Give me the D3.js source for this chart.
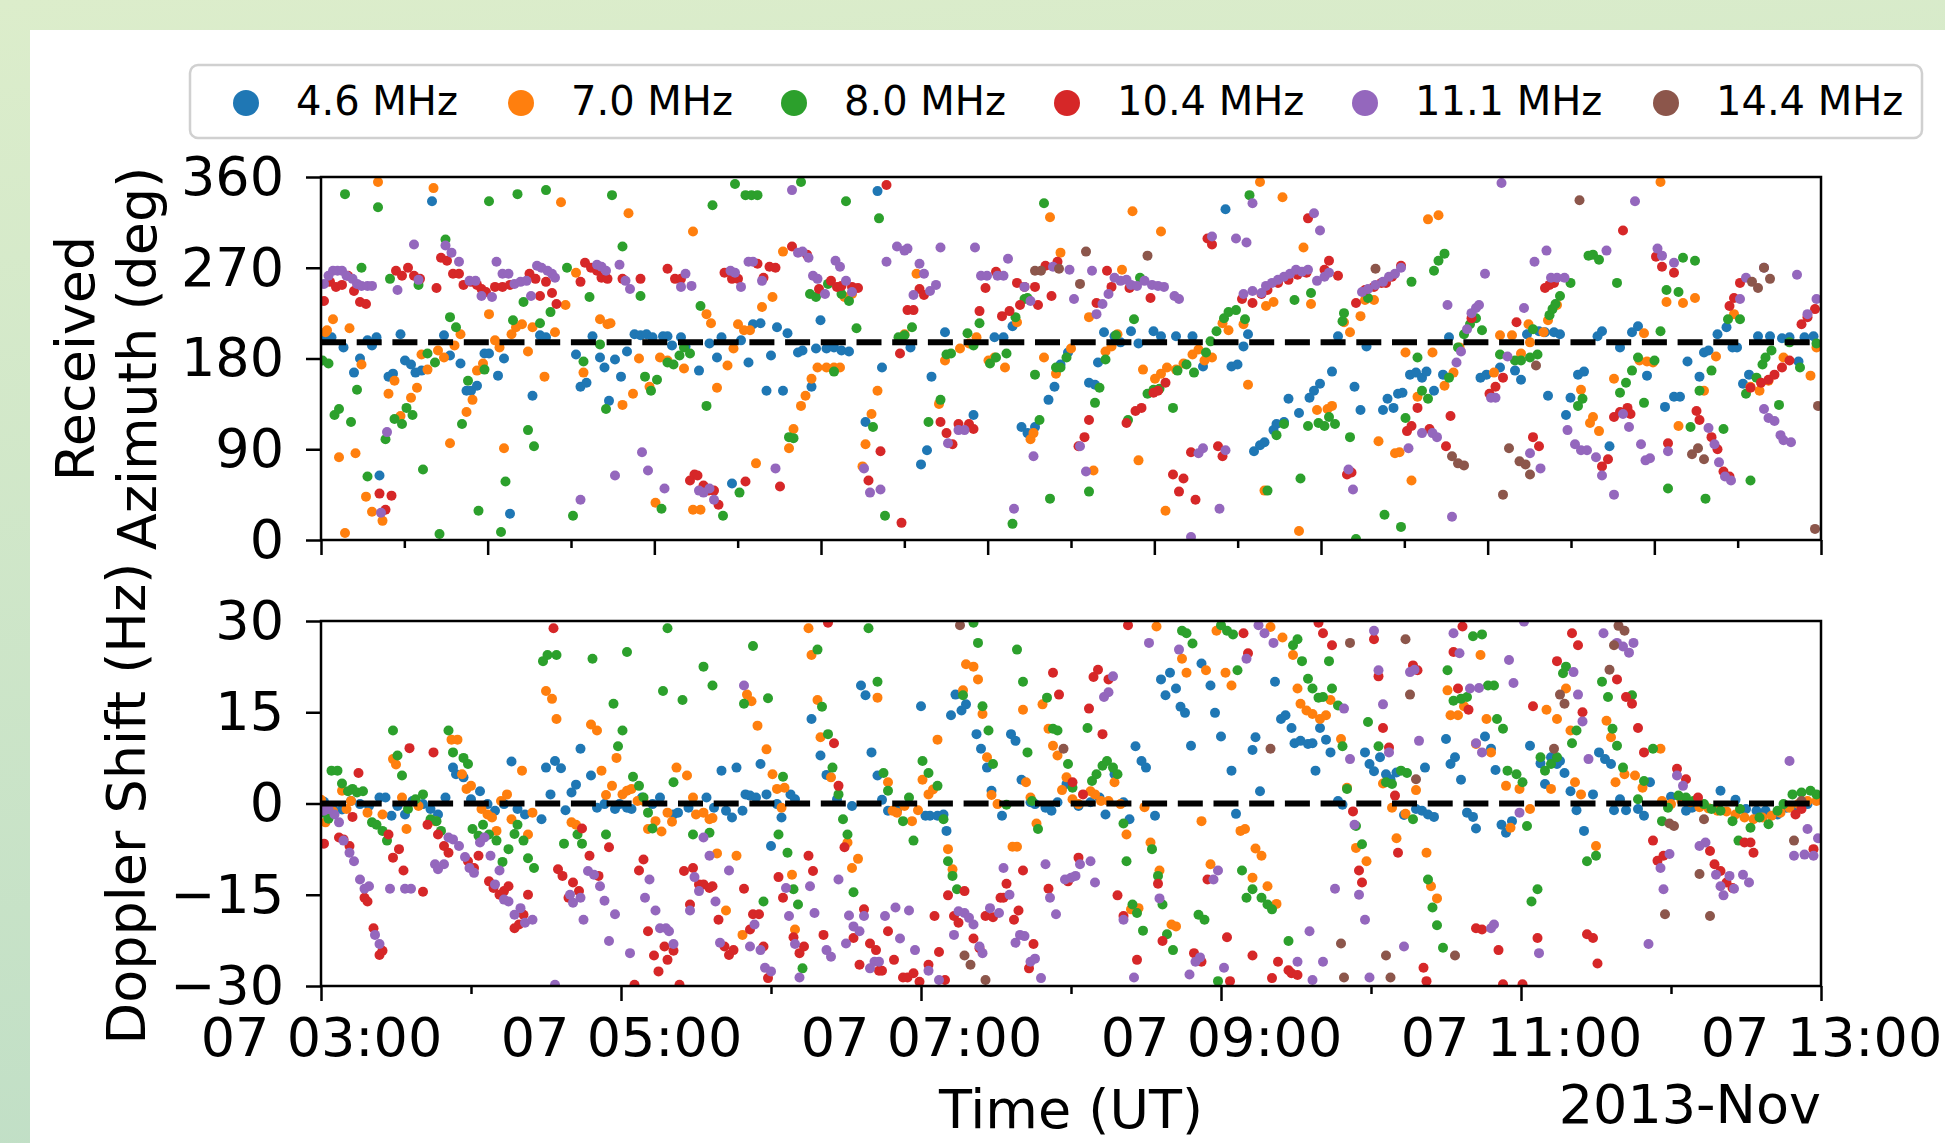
<!DOCTYPE html>
<html>
<head>
<meta charset="utf-8">
<script src="https://cdn.jsdelivr.net/npm/d3@7"></script>
<style>
  body { margin: 0; }
  svg { display: block; }
  text { font-family: "DejaVu Sans", sans-serif; fill: #000; }
</style>
</head>
<body>
<svg id="chart" width="1945" height="1143"></svg>
<script>
// frequencies and colours
const freqLabels = ['4.6 MHz', '7.0 MHz', '8.0 MHz', '10.4 MHz', '11.1 MHz', '14.4 MHz'];
const freqColors = ['#1f77b4', '#ff7f0e', '#2ca02c', '#d62728', '#9467bd', '#8c564b'];

const azTicks = [0, 90, 180, 270, 360];
const dopTicks = [-30, -15, 0, 15, 30];
const labelHours = [3, 5, 7, 9, 11, 13];
const minorHours = [4, 6, 8, 10, 12];
const azReference = 196;
const dopReference = 0;

// [hour UT on 2013-11-07, received azimuth deg]
const azimuth46 = [[3.02,199],[3.07,201],[3.15,191],[3.22,166],[3.26,180],[3.31,198],[3.34,193],[3.37,201],[3.39,64],[3.45,162],[3.48,165],[3.53,204],[3.56,178],[3.60,174],[3.63,166],[3.67,168],[3.74,336],[3.82,203],[3.86,183],[3.93,175],[3.97,148],[4.00,148],[4.04,153],[4.09,185],[4.12,185],[4.18,163],[4.22,180],[4.26,26],[4.41,143],[4.46,203],[4.50,201],[4.70,184],[4.73,152],[4.77,156],[4.81,202],[4.86,181],[4.89,171],[4.92,138],[4.96,179],[5.00,162],[5.04,187],[5.09,204],[5.13,203],[5.17,204],[5.21,201],[5.28,202],[5.31,202],[5.34,193],[5.40,201],[5.43,192],[5.52,168],[5.59,195],[5.64,181],[5.67,201],[5.74,56],[5.80,198],[5.85,176],[5.88,214],[5.93,215],[5.97,148],[6.00,183],[6.04,211],[6.08,148],[6.11,205],[6.18,186],[6.21,188],[6.27,152],[6.30,190],[6.33,218],[6.37,190],[6.42,191],[6.47,188],[6.52,187],[6.63,117],[6.71,346],[6.74,171],[6.93,191],[7.00,75],[7.04,89],[7.07,162],[7.16,206],[7.35,124],[7.49,201],[7.55,201],[7.61,212],[7.67,112],[7.71,106],[7.76,112],[7.85,139],[7.89,152],[7.93,174],[7.98,186],[8.12,156],[8.16,154],[8.18,176],[8.22,206],[8.29,202],[8.33,196],[8.40,207],[8.45,195],[8.55,207],[8.60,202],[8.70,202],[8.81,202],[8.88,172],[9.03,328],[9.07,172],[9.11,174],[9.15,192],[9.18,204],[9.22,88],[9.26,94],[9.29,97],[9.35,109],[9.37,115],[9.42,117],[9.45,140],[9.52,126],[9.59,141],[9.62,148],[9.66,155],[9.74,167],[9.78,202],[9.89,152],[9.93,129],[9.97,192],[10.08,129],[10.11,140],[10.15,131],[10.18,145],[10.21,146],[10.26,164],[10.30,166],[10.34,161],[10.37,167],[10.42,148],[10.48,164],[10.52,201],[10.73,161],[10.77,164],[10.86,171],[10.96,168],[11.00,159],[11.04,204],[11.12,207],[11.16,206],[11.18,143],[11.22,206],[11.26,204],[11.30,124],[11.33,141],[11.38,164],[11.42,167],[11.51,202],[11.54,207],[11.59,93],[11.66,191],[11.74,206],[11.78,212],[11.84,163],[11.96,132],[12.02,142],[12.06,142],[12.11,177],[12.19,162],[12.22,186],[12.25,188],[12.31,204],[12.37,211],[12.41,191],[12.44,191],[12.48,155],[12.52,164],[12.58,202],[12.66,202],[12.74,200],[12.79,201],[12.85,177],[12.89,201],[12.95,202]];
const azimuth70 = [[3.03,206],[3.04,208],[3.08,219],[3.12,82],[3.16,7],[3.19,210],[3.23,86],[3.27,174],[3.30,43],[3.34,28],[3.38,355],[3.41,19],[3.45,145],[3.49,158],[3.53,123],[3.60,141],[3.64,151],[3.67,184],[3.71,169],[3.75,349],[3.78,188],[3.82,181],[3.86,96],[3.89,193],[3.93,204],[3.97,127],[4.01,139],[4.04,168],[4.08,175],[4.12,224],[4.16,198],[4.19,191],[4.22,91],[4.27,204],[4.30,211],[4.34,214],[4.38,187],[4.41,211],[4.49,162],[4.56,206],[4.60,335],[4.63,233],[4.70,265],[4.75,166],[4.86,219],[4.91,214],[4.93,215],[5.01,134],[5.05,324],[5.08,145],[5.12,180],[5.19,152],[5.23,37],[5.26,181],[5.31,178],[5.42,170],[5.48,306],[5.48,30],[5.53,30],[5.57,224],[5.60,215],[5.64,151],[5.71,173],[5.75,190],[5.78,214],[5.82,208],[5.86,208],[5.90,76],[5.94,231],[6.01,241],[6.08,286],[6.12,91],[6.15,110],[6.20,133],[6.23,143],[6.27,160],[6.31,171],[6.37,171],[6.42,171],[6.46,171],[6.49,241],[6.54,244],[6.61,73],[6.63,95],[6.67,125],[6.71,148],[6.89,204],[6.97,264],[7.12,135],[7.16,178],[7.26,190],[7.32,195],[7.37,201],[7.45,178],[7.49,181],[7.56,171],[7.64,216],[7.73,100],[7.75,106],[7.82,181],[7.86,320],[7.90,165],[7.93,285],[8.00,190],[8.12,221],[8.15,69],[8.23,187],[8.27,192],[8.31,204],[8.34,268],[8.41,326],[8.45,79],[8.48,169],[8.56,160],[8.60,306],[8.60,165],[8.63,29],[8.64,171],[8.70,169],[8.75,175],[8.81,184],[8.85,189],[8.89,178],[8.94,181],[9.01,215],[9.05,208],[9.15,214],[9.18,154],[9.26,355],[9.29,49],[9.30,232],[9.35,236],[9.41,340],[9.52,9],[9.55,290],[9.60,234],[9.64,129],[9.71,130],[9.74,133],[9.82,216],[9.86,206],[9.93,222],[9.96,238],[10.02,238],[10.05,98],[10.16,86],[10.19,87],[10.23,186],[10.27,59],[10.31,142],[10.38,318],[10.41,186],[10.45,322],[10.49,153],[10.55,166],[10.59,191],[10.82,166],[10.86,203],[10.94,203],[11.00,185],[11.05,214],[11.06,196],[11.15,206],[11.18,218],[11.24,233],[11.40,149],[11.46,116],[11.48,122],[11.52,108],[11.62,160],[11.79,178],[11.82,205],[11.84,177],[11.88,176],[11.93,355],[11.97,236],[12.05,113],[12.08,235],[12.16,240],[12.22,148],[12.30,182],[12.42,224],[12.53,152],[12.59,148],[12.65,158],[12.75,181],[12.93,163],[12.97,191]];
const azimuth80 = [[3.01,178],[3.05,175],[3.09,124],[3.12,130],[3.16,343],[3.20,117],[3.24,149],[3.27,270],[3.31,63],[3.38,330],[3.43,100],[3.46,259],[3.49,120],[3.54,115],[3.57,131],[3.61,124],[3.65,253],[3.68,70],[3.71,185],[3.76,176],[3.79,6],[3.83,298],[3.86,221],[3.90,211],[3.94,115],[3.98,158],[4.05,29],[4.09,169],[4.12,336],[4.20,8],[4.23,58],[4.28,218],[4.31,343],[4.35,236],[4.38,109],[4.42,93],[4.46,215],[4.50,347],[4.53,226],[4.64,270],[4.68,24],[4.75,177],[4.79,241],[4.86,194],[4.90,130],[4.94,342],[5.01,291],[5.13,242],[5.16,162],[5.20,148],[5.24,159],[5.27,31],[5.31,176],[5.35,174],[5.39,183],[5.42,191],[5.46,185],[5.53,232],[5.57,133],[5.61,332],[5.68,24],[5.76,353],[5.79,47],[5.83,342],[5.87,342],[5.91,342],[6.12,102],[6.15,101],[6.20,355],[6.26,244],[6.30,241],[6.38,254],[6.42,167],[6.47,244],[6.50,336],[6.52,237],[6.57,210],[6.68,112],[6.72,319],[6.76,24],[6.85,201],[6.89,203],[6.94,211],[7.05,117],[7.13,139],[7.17,184],[7.20,185],[7.31,205],[7.35,193],[7.39,215],[7.46,175],[7.50,181],[7.57,185],[7.61,16],[7.63,221],[7.69,239],[7.71,240],[7.76,164],[7.79,119],[7.82,334],[7.86,41],[7.90,171],[7.93,171],[7.97,181],[8.12,48],[8.16,136],[8.19,151],[8.23,179],[8.30,203],[8.38,119],[8.42,219],[8.46,260],[8.51,145],[8.55,149],[8.59,150],[8.68,131],[8.71,168],[8.77,174],[8.82,166],[8.90,186],[8.93,197],[8.97,207],[9.02,220],[9.05,226],[9.10,228],[9.16,219],[9.19,342],[9.31,49],[9.37,104],[9.42,115],[9.49,238],[9.53,61],[9.58,113],[9.60,245],[9.65,116],[9.69,113],[9.72,122],[9.76,115],[9.81,217],[9.82,225],[9.86,102],[9.90,1],[9.98,240],[10.09,25],[10.20,13],[10.23,121],[10.27,256],[10.31,181],[10.34,148],[10.38,140],[10.42,267],[10.45,277],[10.49,284],[10.52,161],[10.58,191],[10.62,204],[10.66,214],[10.70,220],[10.74,208],[10.86,184],[10.96,178],[11.00,178],[11.06,181],[11.08,209],[11.11,184],[11.19,223],[11.21,229],[11.23,234],[11.26,242],[11.33,255],[11.38,133],[11.41,140],[11.45,282],[11.48,283],[11.52,278],[11.64,255],[11.66,146],[11.70,156],[11.74,168],[11.78,181],[11.82,136],[11.89,178],[11.93,207],[11.97,248],[11.98,51],[12.05,246],[12.08,280],[12.13,112],[12.16,277],[12.19,148],[12.23,41],[12.27,168],[12.35,110],[12.38,219],[12.46,219],[12.50,145],[12.53,59],[12.57,161],[12.61,174],[12.63,181],[12.67,188],[12.72,134],[12.79,196],[12.86,171],[12.97,195]];
const azimuth104 = [[3.02,237],[3.06,256],[3.10,251],[3.14,253],[3.18,262],[3.22,247],[3.26,236],[3.30,234],[3.39,46],[3.43,30],[3.47,44],[3.50,267],[3.54,262],[3.58,270],[3.62,262],[3.66,259],[3.77,250],[3.80,280],[3.84,277],[3.88,264],[3.92,264],[3.95,253],[4.00,256],[4.04,253],[4.07,249],[4.10,246],[4.16,251],[4.21,251],[4.26,253],[4.39,264],[4.43,259],[4.46,242],[4.50,256],[4.54,245],[4.57,234],[4.73,256],[4.76,275],[4.80,270],[4.84,267],[4.87,260],[4.91,259],[5.01,259],[5.13,259],[5.31,269],[5.36,259],[5.40,259],[5.46,59],[5.49,65],[5.51,64],[5.55,54],[5.58,49],[5.62,49],[5.65,35],[5.69,265],[5.74,259],[5.78,259],[5.83,58],[5.91,274],[5.95,260],[5.99,271],[6.03,270],[6.06,53],[6.14,291],[6.24,283],[6.32,249],[6.40,257],[6.44,251],[6.47,252],[6.54,251],[6.58,250],[6.65,59],[6.73,88],[6.77,352],[6.86,185],[6.87,17],[6.91,228],[6.95,228],[6.99,249],[7.02,243],[7.13,117],[7.17,106],[7.21,95],[7.25,115],[7.32,115],[7.35,110],[7.39,227],[7.43,250],[7.50,266],[7.54,222],[7.59,227],[7.64,255],[7.66,233],[7.69,251],[7.76,251],[7.78,233],[7.83,272],[7.87,242],[7.91,276],[8.05,93],[8.09,102],[8.12,119],[8.17,235],[8.24,267],[8.27,251],[8.37,116],[8.39,250],[8.43,128],[8.47,131],[8.53,240],[8.55,146],[8.58,148],[8.63,156],[8.68,65],[8.72,48],[8.75,61],[8.80,87],[8.83,40],[8.91,299],[8.94,293],[8.98,93],[9.01,83],[9.14,239],[9.21,235],[9.27,244],[9.31,248],[9.38,255],[9.45,258],[9.51,263],[9.57,265],[9.58,319],[9.69,268],[9.72,277],[9.78,262],[9.84,65],[9.87,67],[9.90,235],[9.96,248],[10.02,251],[10.07,255],[10.10,255],[10.14,261],[10.20,272],[10.24,108],[10.27,113],[10.31,131],[10.39,110],[10.50,93],[10.53,123],[10.67,220],[10.79,145],[10.83,152],[10.88,161],[10.97,216],[11.08,102],[11.12,93],[11.16,250],[11.19,253],[11.22,255],[11.54,73],[11.58,80],[11.62,122],[11.66,127],[11.68,307],[11.71,131],[11.73,125],[11.90,281],[11.94,271],[11.98,96],[12.02,265],[12.17,128],[12.19,119],[12.27,102],[12.31,90],[12.35,68],[12.39,63],[12.39,232],[12.42,240],[12.46,255],[12.53,151],[12.60,156],[12.65,159],[12.69,164],[12.74,171],[12.79,178],[12.87,214],[12.91,221],[12.96,229]];
const azimuth111 = [[3.02,254],[3.05,262],[3.08,267],[3.11,267],[3.14,267],[3.17,262],[3.21,259],[3.24,254],[3.27,252],[3.31,252],[3.34,252],[3.40,27],[3.44,107],[3.51,248],[3.62,293],[3.65,258],[3.83,292],[3.87,285],[3.92,276],[3.99,257],[4.03,257],[4.07,242],[4.14,241],[4.17,276],[4.21,264],[4.25,264],[4.29,254],[4.33,256],[4.37,257],[4.40,242],[4.44,272],[4.47,270],[4.51,267],[4.54,264],[4.56,260],[4.73,40],[4.84,273],[4.87,271],[4.90,267],[4.96,64],[4.99,273],[5.03,257],[5.06,249],[5.14,87],[5.18,69],[5.29,51],[5.40,251],[5.43,264],[5.47,252],[5.52,49],[5.55,47],[5.59,51],[5.62,40],[5.73,267],[5.76,265],[5.80,251],[5.85,276],[5.88,276],[5.94,257],[6.03,71],[6.14,347],[6.18,285],[6.21,286],[6.25,280],[6.28,262],[6.31,259],[6.36,244],[6.43,277],[6.46,271],[6.50,257],[6.54,246],[6.62,71],[6.66,47],[6.73,50],[6.77,276],[6.84,291],[6.89,287],[6.91,289],[6.95,243],[6.99,274],[7.02,264],[7.06,247],[7.10,253],[7.13,290],[7.18,96],[7.25,109],[7.29,109],[7.36,290],[7.40,262],[7.44,262],[7.51,262],[7.55,262],[7.58,279],[7.62,31],[7.69,251],[7.73,237],[7.75,83],[7.88,271],[7.99,268],[8.02,239],[8.06,93],[8.10,68],[8.14,267],[8.17,224],[8.21,234],[8.25,244],[8.29,260],[8.33,257],[8.37,258],[8.40,253],[8.44,252],[8.49,257],[8.54,253],[8.58,252],[8.62,251],[8.69,242],[8.72,239],[8.80,3],[8.85,86],[8.88,91],[8.94,301],[8.99,31],[9.03,89],[9.10,299],[9.15,244],[9.17,295],[9.21,334],[9.21,247],[9.27,245],[9.30,252],[9.34,255],[9.38,258],[9.42,261],[9.46,264],[9.50,268],[9.54,266],[9.58,268],[9.62,324],[9.64,257],[9.66,307],[9.69,261],[9.72,265],[9.85,70],[9.88,50],[9.94,246],[9.98,249],[10.03,253],[10.08,256],[10.12,261],[10.16,264],[10.20,270],[10.25,91],[10.34,106],[10.41,106],[10.44,102],[10.51,233],[10.54,23],[10.57,176],[10.60,187],[10.64,209],[10.67,225],[10.70,230],[10.72,233],[10.76,264],[10.80,141],[10.83,141],[10.87,354],[10.91,182],[11.02,230],[11.06,86],[11.09,276],[11.13,71],[11.17,287],[11.20,260],[11.24,260],[11.29,260],[11.31,109],[11.36,95],[11.40,89],[11.44,89],[11.50,82],[11.54,64],[11.57,287],[11.62,45],[11.68,125],[11.72,112],[11.76,336],[11.80,95],[11.83,79],[11.86,81],[11.91,289],[11.94,282],[11.98,88],[12.02,275],[12.25,111],[12.29,95],[12.32,77],[12.36,63],[12.40,59],[12.46,239],[12.50,260],[12.62,130],[12.62,270],[12.65,121],[12.69,118],[12.73,104],[12.75,99],[12.80,97],[12.84,263],[12.91,224],[12.97,239]];
const azimuth144 = [[7.76,267],[7.80,267],[7.92,269],[8.06,254],[8.10,286],[8.51,282],[10.03,269],[10.54,83],[10.58,76],[10.62,74],[10.88,45],[10.92,91],[10.99,78],[11.03,75],[11.06,65],[11.10,173],[11.39,337],[12.14,85],[12.18,91],[12.22,80],[12.54,256],[12.58,250],[12.62,270],[12.66,259],[12.96,11],[12.98,133]];

// [hour UT on 2013-11-07, Doppler shift Hz]
const doppler46 = [[3.02,0.3],[3.08,-0.8],[3.14,-1.0],[3.20,0.4],[3.26,-0.1],[3.32,-0.4],[3.39,1.0],[3.43,1.0],[3.47,-2.0],[3.51,-0.4],[3.56,-1.8],[3.61,0.4],[3.68,-0.1],[3.73,-0.9],[3.78,-1.8],[3.83,1.0],[3.88,5.9],[3.90,4.8],[3.95,4.3],[4.00,0.7],[4.06,2.0],[4.11,-0.1],[4.16,-1.2],[4.22,-0.1],[4.27,6.9],[4.31,-0.9],[4.36,-1.8],[4.47,-2.6],[4.50,5.9],[4.53,1.5],[4.56,7.0],[4.60,5.8],[4.63,-1.1],[4.67,1.8],[4.70,3.1],[4.73,9.0],[4.80,4.6],[4.84,-0.7],[4.89,-0.1],[4.96,-0.9],[4.99,-0.1],[5.04,-0.7],[5.07,-0.9],[5.14,1.0],[5.21,-0.1],[5.26,1.0],[5.35,-1.8],[5.38,-1.5],[5.45,-0.7],[5.57,1.0],[5.62,-0.7],[5.67,5.4],[5.70,-1.2],[5.74,-2.3],[5.77,5.9],[5.81,-1.2],[5.83,1.5],[5.86,1.3],[5.90,1.0],[5.93,6.5],[5.97,1.5],[6.00,-7.0],[6.04,-0.1],[6.07,-2.3],[6.13,1.5],[6.16,0.7],[6.27,13.9],[6.33,7.9],[6.37,4.7],[6.44,0.7],[6.54,-0.4],[6.60,19.4],[6.63,17.8],[6.67,8.4],[6.71,4.6],[6.74,0.6],[6.78,-1.2],[6.84,-1.2],[7.00,16.0],[7.03,-2.0],[7.06,-2.0],[7.11,-2.0],[7.15,-1.8],[7.17,-4.5],[7.20,14.5],[7.23,17.9],[7.27,15.3],[7.30,16.3],[7.37,11.4],[7.40,9.0],[7.44,5.9],[7.47,2.1],[7.54,-2.0],[7.60,11.4],[7.63,10.3],[7.67,3.9],[7.73,0.2],[7.76,-0.1],[7.83,-0.7],[7.87,-1.2],[7.91,0.2],[7.97,3.2],[8.05,-0.4],[8.13,0.2],[8.19,1.0],[8.23,-1.8],[8.29,4.8],[8.35,0.2],[8.39,-2.6],[8.43,9.4],[8.47,7.0],[8.50,5.9],[8.56,-2.0],[8.60,20.4],[8.63,17.8],[8.66,21.5],[8.70,18.9],[8.73,15.9],[8.76,14.9],[8.80,9.5],[8.87,23.0],[8.93,19.4],[8.96,14.9],[9.00,11.0],[9.07,5.4],[9.10,-1.7],[9.21,8.8],[9.23,10.9],[9.26,2.0],[9.36,20.0],[9.40,13.9],[9.43,14.5],[9.47,12.4],[9.49,9.9],[9.53,10.3],[9.58,9.8],[9.61,9.9],[9.63,5.4],[9.66,12.4],[9.70,10.5],[9.73,8.4],[9.78,0.4],[9.81,-0.2],[9.96,8.4],[9.99,6.5],[10.02,5.3],[10.06,7.6],[10.10,4.8],[10.13,4.0],[10.17,5.1],[10.22,-1.9],[10.30,-0.9],[10.34,-1.2],[10.36,5.9],[10.38,-1.8],[10.42,-2.2],[10.50,10.6],[10.53,6.5],[10.56,7.6],[10.60,3.9],[10.64,-1.5],[10.68,-2.2],[10.70,-4.1],[10.76,11.0],[10.80,9.0],[10.83,5.5],[10.87,-3.5],[10.90,-4.8],[10.94,-2.9],[11.06,9.5],[11.13,6.6],[11.16,3.2],[11.20,7.6],[11.24,6.5],[11.26,7.0],[11.29,5.0],[11.33,2.0],[11.37,-1.1],[11.42,-4.5],[11.48,1.5],[11.52,8.4],[11.56,7.3],[11.60,6.5],[11.62,-1.1],[11.66,0.7],[11.70,-1.1],[11.78,-0.9],[11.82,-2.0],[11.86,3.5],[12.00,1.1],[12.10,-1.2],[12.14,-0.7],[12.33,2.1],[12.43,0.6],[12.50,-0.9],[12.57,-1.2],[12.63,-1.2],[12.71,-1.8],[12.77,-0.7],[12.83,-0.4],[12.91,-0.1]];
const doppler70 = [[3.00,0.6],[3.03,-3.1],[3.08,-1.3],[3.14,2.1],[3.17,-0.9],[3.20,0.4],[3.31,-1.5],[3.41,-1.8],[3.48,7.3],[3.50,6.4],[3.54,1.0],[3.57,-4.2],[3.65,-0.4],[3.76,-2.9],[3.87,10.5],[3.91,10.5],[3.94,4.8],[3.97,2.4],[4.00,2.9],[4.07,-0.9],[4.11,-1.8],[4.14,-2.3],[4.17,-4.5],[4.20,0.4],[4.24,1.5],[4.27,-2.6],[4.34,5.4],[4.38,-5.1],[4.41,-1.5],[4.50,18.5],[4.54,17.2],[4.57,13.9],[4.67,-3.1],[4.70,-3.5],[4.80,13.0],[4.84,12.0],[4.87,5.4],[4.90,1.4],[4.94,2.9],[4.97,7.5],[5.01,1.5],[5.04,2.1],[5.07,2.4],[5.11,0.4],[5.15,0.4],[5.18,-4.2],[5.23,-2.9],[5.27,-4.6],[5.31,-1.5],[5.34,-3.0],[5.37,5.9],[5.44,4.6],[5.48,1.0],[5.50,-1.8],[5.55,-1.5],[5.59,-2.6],[5.61,-2.4],[5.64,-8.2],[5.70,-17.6],[5.77,-8.6],[5.81,-21.6],[5.84,17.9],[5.87,16.8],[5.91,12.8],[5.97,8.9],[6.01,4.8],[6.04,2.4],[6.07,-0.7],[6.09,2.6],[6.14,-11.7],[6.16,-20.7],[6.25,28.8],[6.27,24.4],[6.31,17.0],[6.33,10.9],[6.40,4.3],[6.51,-6.4],[6.54,-10.6],[6.58,-9.1],[6.71,17.4],[6.78,3.5],[6.81,-1.2],[6.84,-1.5],[6.89,-0.4],[6.94,-2.9],[6.98,-1.1],[7.01,3.9],[7.05,1.5],[7.08,2.3],[7.11,10.5],[7.18,-7.5],[7.21,-10.8],[7.28,18.6],[7.30,22.9],[7.35,22.5],[7.38,20.4],[7.41,14.7],[7.44,7.6],[7.47,1.4],[7.51,-0.1],[7.61,-7.1],[7.64,-7.1],[7.68,15.4],[7.70,3.5],[7.73,1.0],[7.77,-3.3],[7.81,16.3],[7.85,12.3],[7.88,9.5],[7.91,7.9],[7.94,2.2],[7.97,4.3],[8.01,0.7],[8.05,-0.1],[8.13,2.0],[8.16,1.5],[8.20,0.4],[8.25,0.4],[8.29,3.5],[8.33,-0.1],[8.37,-5.1],[8.40,-17.4],[8.45,-17.2],[8.49,-0.6],[8.53,-6.4],[8.57,29.1],[8.59,-11.0],[8.67,-19.9],[8.70,-20.2],[8.74,23.8],[8.77,21.5],[8.87,-2.9],[8.90,21.9],[8.93,-10.0],[8.97,28.4],[9.03,21.5],[9.07,19.4],[9.13,-4.5],[9.16,-4.2],[9.21,-12.2],[9.23,-7.4],[9.27,-8.6],[9.31,-13.6],[9.33,29.0],[9.37,-16.5],[9.41,27.3],[9.48,24.4],[9.51,18.9],[9.53,16.4],[9.57,15.3],[9.61,14.7],[9.66,13.9],[9.70,14.5],[9.73,17.0],[9.80,10.6],[9.84,2.6],[9.90,-7.3],[9.97,-9.5],[10.08,3.3],[10.14,-0.7],[10.17,-5.7],[10.23,-1.7],[10.30,2.2],[10.37,-8.1],[10.40,-13.6],[10.44,-15.6],[10.51,18.6],[10.53,14.5],[10.58,14.5],[10.62,16.0],[10.70,9.8],[10.73,24.4],[10.77,13.9],[10.80,8.4],[10.90,2.9],[10.93,-4.0],[10.99,2.4],[11.06,-0.9],[11.17,15.4],[11.20,2.4],[11.24,13.9],[11.30,18.9],[11.33,12.0],[11.36,3.5],[11.40,1.5],[11.50,-7.0],[11.57,13.6],[11.60,10.9],[11.63,3.5],[11.69,4.8],[11.76,4.6],[11.81,2.6],[11.93,9.0],[11.94,0.4],[12.00,-0.1],[12.07,0.4],[12.13,0.2],[12.19,-0.6],[12.25,-0.8],[12.31,-1.2],[12.37,-1.3],[12.43,-1.8],[12.49,-2.3],[12.55,-2.6],[12.61,-2.3],[12.67,-2.0],[12.73,-1.5],[12.79,-0.7],[12.85,-0.1],[12.91,0.4],[12.97,0.4]];
const doppler80 = [[3.02,-1.5],[3.05,-2.5],[3.07,5.4],[3.11,5.4],[3.14,3.3],[3.18,2.0],[3.21,2.4],[3.24,1.8],[3.28,2.0],[3.34,-3.1],[3.37,-3.5],[3.41,-4.5],[3.44,-6.1],[3.48,12.0],[3.51,7.9],[3.54,4.6],[3.58,-0.9],[3.63,0.7],[3.68,1.5],[3.73,-2.6],[3.77,-2.9],[3.80,-4.5],[3.85,12.0],[3.88,8.4],[3.95,7.5],[3.98,6.5],[4.01,-4.2],[4.05,-5.3],[4.08,-3.5],[4.12,-5.1],[4.17,-6.1],[4.21,-9.6],[4.25,-7.5],[4.29,-5.0],[4.31,-3.5],[4.35,-6.1],[4.38,-9.0],[4.42,-10.6],[4.48,23.4],[4.51,24.4],[4.57,24.4],[4.62,-6.6],[4.71,-5.1],[4.74,-6.6],[4.81,23.8],[4.90,-5.1],[4.95,16.4],[4.98,9.4],[5.01,12.0],[5.04,24.9],[5.08,4.4],[5.12,2.9],[5.15,1.0],[5.18,-1.5],[5.21,-4.1],[5.28,18.5],[5.31,28.8],[5.35,3.5],[5.41,17.0],[5.48,-5.1],[5.55,22.5],[5.59,-4.8],[5.61,19.4],[5.82,16.4],[5.88,25.9],[5.95,-16.1],[5.98,17.3],[6.05,-5.1],[6.08,4.4],[6.11,-8.1],[6.15,-14.1],[6.18,-16.6],[6.21,-27.1],[6.31,25.3],[6.34,15.9],[6.38,11.4],[6.41,5.9],[6.45,1.5],[6.48,-2.6],[6.51,-5.1],[6.55,-14.6],[6.65,28.8],[6.71,20.0],[6.75,5.0],[6.78,2.1],[6.88,-2.9],[6.92,1.0],[6.95,-6.1],[7.01,7.0],[7.05,5.0],[7.11,2.9],[7.15,-2.6],[7.18,-9.5],[7.21,-11.9],[7.24,-14.1],[7.28,17.8],[7.35,29.7],[7.38,26.4],[7.41,16.0],[7.45,12.0],[7.48,6.5],[7.57,-0.2],[7.64,25.3],[7.68,20.0],[7.71,8.4],[7.74,0.4],[7.78,-4.2],[7.84,17.4],[7.88,12.3],[7.91,12.0],[7.98,6.5],[8.01,2.6],[8.11,12.4],[8.14,3.7],[8.17,4.8],[8.21,6.2],[8.24,7.0],[8.28,5.9],[8.31,4.8],[8.35,-3.3],[8.37,-9.5],[8.41,-16.6],[8.44,-18.0],[8.48,-20.9],[8.54,-7.5],[8.58,-11.9],[8.61,-16.6],[8.64,-21.5],[8.68,-24.1],[8.74,28.4],[8.77,28.0],[8.81,26.3],[8.85,-18.3],[8.89,-19.1],[8.98,-29.2],[9.00,29.3],[9.04,28.4],[9.08,27.8],[9.11,21.9],[9.14,-11.0],[9.17,-15.5],[9.21,-14.1],[9.27,-15.5],[9.31,-16.6],[9.34,-17.4],[9.45,-22.6],[9.48,26.0],[9.51,27.0],[9.54,23.4],[9.58,20.5],[9.61,18.9],[9.65,17.4],[9.68,17.5],[9.72,23.4],[9.74,18.9],[9.78,16.1],[9.81,9.4],[9.84,2.4],[9.90,-3.7],[9.94,-6.7],[9.98,13.4],[10.05,9.4],[10.10,3.5],[10.14,3.2],[10.20,5.4],[10.24,5.0],[10.28,-2.6],[10.38,-12.5],[10.41,-17.1],[10.44,-20.0],[10.48,-23.7],[10.51,21.9],[10.55,16.9],[10.60,17.2],[10.64,17.5],[10.68,27.5],[10.74,27.8],[10.78,19.4],[10.82,19.4],[10.84,13.9],[10.88,12.3],[10.91,5.4],[10.97,4.8],[11.01,3.5],[11.04,-3.7],[11.07,-16.1],[11.11,-14.1],[11.13,7.6],[11.16,5.4],[11.20,6.5],[11.24,7.6],[11.28,21.4],[11.30,22.5],[11.34,9.9],[11.37,12.0],[11.44,-9.5],[11.50,-8.6],[11.54,20.0],[11.58,17.5],[11.61,12.3],[11.64,9.5],[11.68,5.9],[11.74,17.8],[11.78,0.7],[11.82,3.7],[11.88,9.0],[11.94,-2.9],[11.98,-0.7],[12.05,1.3],[12.10,1.0],[12.15,0.4],[12.22,-0.1],[12.27,-0.9],[12.33,-1.2],[12.41,-2.9],[12.45,-6.1],[12.46,-0.9],[12.53,-4.0],[12.59,-2.3],[12.65,-3.4],[12.71,-1.2],[12.75,-0.1],[12.81,1.5],[12.87,1.8],[12.93,2.1],[12.97,1.5]];
const doppler104 = [[3.00,-1.0],[3.02,-6.6],[3.12,-5.6],[3.15,-5.9],[3.19,-7.0],[3.21,-2.2],[3.25,5.0],[3.29,-15.5],[3.31,-16.1],[3.35,-20.5],[3.39,-24.9],[3.41,-24.2],[3.45,-5.1],[3.48,-8.9],[3.52,-7.5],[3.55,-11.0],[3.59,9.1],[3.68,-14.5],[3.71,-3.5],[3.75,8.4],[3.78,-5.1],[3.82,-7.0],[3.85,-8.1],[3.98,-9.5],[4.02,-10.6],[4.05,-8.6],[4.12,-12.8],[4.15,-13.9],[4.19,-15.0],[4.22,-14.4],[4.25,-13.6],[4.29,-20.5],[4.32,-19.9],[4.35,-18.3],[4.38,-15.0],[4.55,28.8],[4.58,-10.8],[4.61,-11.9],[4.65,-15.5],[4.68,-13.0],[4.72,-14.4],[4.74,-4.1],[4.79,-8.6],[4.85,-11.9],[4.92,-7.2],[5.09,-29.8],[5.12,-11.0],[5.15,-9.2],[5.18,-21.0],[5.22,-25.0],[5.25,-27.6],[5.29,-23.5],[5.31,-25.7],[5.35,-24.2],[5.39,-29.8],[5.42,-11.1],[5.46,-16.6],[5.48,-10.6],[5.52,-13.3],[5.55,-13.3],[5.59,-13.9],[5.61,-13.6],[5.65,-19.1],[5.69,-23.5],[5.72,-24.9],[5.75,-24.1],[5.82,-14.0],[5.86,-20.7],[5.88,-18.2],[5.92,-18.2],[5.95,-23.5],[5.98,-28.7],[6.05,-12.1],[6.08,-15.5],[6.15,-22.0],[6.19,-24.6],[6.22,-23.5],[6.25,-8.6],[6.28,-11.1],[6.35,-21.6],[6.38,29.7],[6.42,9.9],[6.45,2.9],[6.49,-7.2],[6.55,-22.1],[6.59,-26.5],[6.62,-17.4],[6.66,-23.0],[6.70,-24.1],[6.72,-27.5],[6.74,-27.5],[6.78,-21.0],[6.82,-25.7],[6.88,-28.6],[6.91,-28.6],[6.95,-27.9],[6.99,-29.3],[7.05,-26.5],[7.09,-18.5],[7.12,-24.4],[7.16,-29.0],[7.18,-15.1],[7.22,-18.5],[7.25,-19.6],[7.29,-14.4],[7.35,-22.2],[7.39,-23.8],[7.43,-18.5],[7.48,-18.7],[7.53,-15.5],[7.55,-15.5],[7.57,-13.2],[7.62,-19.1],[7.65,-17.6],[7.68,-11.0],[7.72,-27.1],[7.75,-23.1],[7.85,-14.0],[7.88,21.5],[7.92,17.9],[7.98,-12.8],[8.01,3.5],[8.05,-8.9],[8.08,1.5],[8.12,15.6],[8.15,20.8],[8.18,22.0],[8.21,11.4],[8.25,20.4],[8.31,-15.1],[8.35,-18.5],[8.38,29.3],[8.44,-25.7],[8.58,-13.2],[8.61,-22.6],[8.82,-24.6],[8.87,-26.0],[8.91,-12.5],[9.04,-22.0],[9.06,-29.2],[9.15,28.0],[9.18,24.7],[9.21,-25.0],[9.34,-28.7],[9.38,-26.0],[9.45,-27.4],[9.47,-27.9],[9.51,-28.2],[9.65,29.7],[9.68,28.0],[9.74,26.0],[9.88,-1.3],[9.92,-11.0],[9.94,-13.0],[10.02,27.0],[10.05,20.9],[10.08,12.4],[10.12,9.2],[10.16,1.3],[10.18,-8.1],[10.28,22.7],[10.31,21.9],[10.35,-27.0],[10.37,-29.2],[10.55,24.9],[10.58,18.9],[10.61,29.1],[10.65,15.4],[10.70,-20.5],[10.74,-20.7],[10.85,-24.1],[10.88,-29.7],[11.01,-29.7],[11.08,16.0],[11.11,-22.1],[11.24,23.4],[11.34,28.0],[11.38,26.0],[11.41,15.0],[11.44,-21.5],[11.48,-22.1],[11.51,-26.3],[11.64,20.4],[11.70,17.5],[11.74,16.4],[11.78,12.4],[11.82,8.4],[11.88,-6.1],[11.91,-9.4],[11.95,-8.6],[12.04,5.7],[12.10,4.0],[12.18,1.0],[12.26,-7.8],[12.29,-10.0],[12.33,-11.1],[12.37,-13.0],[12.41,-13.9],[12.49,-6.4],[12.53,-6.4],[12.55,-8.1],[12.83,-1.8],[12.87,-0.9],[12.95,-7.5]];
const doppler111 = [[3.00,-1.0],[3.02,-1.2],[3.05,-0.9],[3.09,-1.8],[3.12,-3.1],[3.15,-6.1],[3.19,-8.1],[3.22,-9.5],[3.26,-12.5],[3.29,-14.0],[3.32,-13.6],[3.36,-21.6],[3.39,-23.1],[3.46,-14.0],[3.56,-14.0],[3.60,-14.0],[3.76,-10.0],[3.78,-10.8],[3.82,-10.0],[3.85,-5.6],[3.88,-5.9],[3.92,-7.0],[3.96,-8.8],[3.99,-10.6],[4.02,-11.4],[4.06,-6.4],[4.09,-5.6],[4.13,-8.6],[4.16,-13.3],[4.19,-11.0],[4.22,-15.8],[4.25,-16.1],[4.29,-18.3],[4.33,-17.2],[4.36,-19.6],[4.41,-19.1],[4.56,-29.8],[4.66,-15.0],[4.68,-16.3],[4.73,-15.5],[4.75,-19.1],[4.78,-11.1],[4.82,-11.7],[4.86,-13.6],[4.89,-16.0],[4.92,-22.6],[4.96,-18.2],[5.06,-24.6],[5.16,-15.5],[5.19,-12.5],[5.23,-17.6],[5.26,-20.5],[5.30,-20.5],[5.32,-21.0],[5.35,-23.1],[5.46,-17.6],[5.49,-12.1],[5.52,-14.4],[5.55,-5.6],[5.59,-8.6],[5.63,-16.1],[5.66,-22.9],[5.72,-11.0],[5.82,19.4],[5.86,-23.5],[5.89,-19.9],[5.93,-24.1],[5.96,-27.0],[6.00,-27.6],[6.10,-13.9],[6.12,-18.5],[6.16,-23.1],[6.19,-28.6],[6.26,-13.6],[6.29,-18.0],[6.37,-24.1],[6.40,-25.2],[6.45,-12.5],[6.50,-23.0],[6.52,-18.4],[6.55,-20.2],[6.59,-21.0],[6.62,-18.5],[6.66,-27.1],[6.69,-26.0],[6.72,-26.0],[6.76,-18.5],[6.83,-17.1],[6.86,-22.2],[6.92,-17.6],[6.96,-24.1],[7.05,-27.5],[7.12,-29.0],[7.22,-21.6],[7.25,-17.7],[7.29,-18.0],[7.32,-18.8],[7.35,-19.9],[7.39,-23.5],[7.41,-24.6],[7.46,-17.2],[7.52,-18.0],[7.55,-10.6],[7.59,-15.0],[7.63,-22.9],[7.66,-21.6],[7.69,-21.8],[7.73,-26.0],[7.76,-25.5],[7.80,-28.7],[7.83,-10.0],[7.86,-15.5],[7.90,-18.2],[7.96,-12.5],[8.00,-12.2],[8.03,-11.9],[8.06,-10.0],[8.13,-9.5],[8.16,-13.0],[8.22,17.5],[8.25,18.3],[8.28,20.9],[8.35,-19.1],[8.42,-28.6],[8.52,26.4],[8.59,-15.6],[8.72,25.3],[8.79,-28.1],[8.83,-26.0],[8.86,-25.3],[8.95,-12.5],[8.98,-11.0],[9.02,-27.0],[9.17,23.8],[9.25,29.3],[9.29,28.0],[9.35,26.4],[9.51,-26.0],[9.59,-21.0],[9.61,-29.0],[9.68,-26.0],[9.76,-14.0],[9.82,15.6],[9.86,7.3],[9.89,-3.5],[9.92,-15.0],[9.96,-19.1],[9.99,-28.6],[10.02,28.4],[10.05,21.9],[10.08,16.3],[10.12,8.4],[10.22,-23.5],[10.26,21.6],[10.29,22.0],[10.32,10.3],[10.55,28.0],[10.59,24.7],[10.66,18.9],[10.70,9.9],[10.72,19.0],[10.74,8.4],[10.80,-20.5],[10.82,-19.9],[10.92,23.6],[10.95,19.8],[10.99,-1.5],[11.02,29.9],[11.12,-24.6],[11.35,21.6],[11.38,17.9],[11.41,13.5],[11.45,7.3],[11.55,28.0],[11.64,26.4],[11.68,25.8],[11.72,24.8],[11.75,26.4],[11.85,-23.1],[11.93,-10.6],[11.95,-14.1],[11.99,-8.3],[12.04,4.6],[12.08,2.9],[12.19,-7.0],[12.23,-6.4],[12.30,-11.7],[12.33,-13.6],[12.35,-15.1],[12.39,-11.9],[12.42,-14.0],[12.48,-11.7],[12.52,-13.0],[12.79,7.0],[12.82,-8.6],[12.89,-8.4],[12.91,-4.2],[12.95,-8.6],[12.98,-5.7]];
const doppler144 = [[7.26,29.3],[7.29,-25.0],[7.33,-26.5],[7.43,-29.0],[7.95,9.0],[9.33,9.0],[9.80,-23.0],[9.82,-28.6],[9.86,26.4],[10.10,-25.0],[10.13,-28.6],[10.23,27.0],[10.26,17.9],[10.30,4.0],[10.56,-25.0],[11.22,9.0],[11.26,17.9],[11.29,16.4],[11.59,22.0],[11.62,26.0],[11.65,29.2],[11.69,28.4],[11.96,-18.2],[11.99,-3.3],[12.02,-3.7],[12.19,-11.6],[12.22,-2.6],[12.26,-18.5],[12.82,-6.1],[12.87,0.4]];

const azimuthSeries = [azimuth46, azimuth70, azimuth80, azimuth104, azimuth111, azimuth144];
const dopplerSeries = [doppler46, doppler70, doppler80, doppler104, doppler111, doppler144];

const W = 1945, H = 1143;
const left = 321, right = 1821;
const topPanel = {y0: 177, y1: 540};
const botPanel = {y0: 621, y1: 986};
const tickFont = 54;
const labelFont = 54;

const svg = d3.select('#chart');

// page background
const defs = svg.append('defs');
const grad = defs.append('linearGradient')
    .attr('id', 'bg')
    .attr('x1', 0).attr('y1', 0).attr('x2', 0.15).attr('y2', 1);
grad.append('stop').attr('offset', 0).attr('stop-color', '#dcedcb');
grad.append('stop').attr('offset', 1).attr('stop-color', '#c1dfc6');
svg.append('rect').attr('width', W).attr('height', H).attr('fill', 'url(#bg)');
svg.append('rect').attr('x', 30).attr('y', 30).attr('width', W - 30).attr('height', H - 30).attr('fill', '#fff');

const day = Date.UTC(2013, 10, 7);
const toTime = h => new Date(day + h * 3600 * 1000);

const x = d3.scaleUtc().domain([toTime(3), toTime(13)]).range([left, right]);
const yAz = d3.scaleLinear().domain([0, 360]).range([topPanel.y1, topPanel.y0]);
const yDop = d3.scaleLinear().domain([-30, 30]).range([botPanel.y1, botPanel.y0]);

function styleAxis(g) {
    g.select('.domain').remove();
    g.selectAll('line').attr('stroke', '#000').attr('stroke-width', 2.5);
    g.selectAll('text').attr('font-size', tickFont).attr('font-family', '"DejaVu Sans", sans-serif').attr('fill', '#000');
}

function drawPanel(panel, y, series, ticks, refValue, id) {
    const g = svg.append('g');
    defs.append('clipPath').attr('id', id)
        .append('rect')
        .attr('x', left).attr('y', panel.y0)
        .attr('width', right - left).attr('height', panel.y1 - panel.y0);

    const plot = g.append('g').attr('clip-path', `url(#${id})`);
    series.forEach((pts, i) => {
        plot.append('g')
            .selectAll('circle')
            .data(pts)
            .enter()
            .append('circle')
            .attr('cx', d => x(toTime(d[0])))
            .attr('cy', d => y(d[1]))
            .attr('r', 5)
            .attr('fill', freqColors[i]);
    });

    plot.append('line')
        .attr('x1', left).attr('x2', right)
        .attr('y1', y(refValue)).attr('y2', y(refValue))
        .attr('stroke', '#000')
        .attr('stroke-width', 6)
        .attr('stroke-dasharray', '25 10.7');

    g.append('g')
        .attr('transform', `translate(${left},0)`)
        .call(d3.axisLeft(y).tickValues(ticks).tickFormat(d3.format('d')).tickSize(15).tickPadding(22))
        .call(styleAxis);

    g.append('rect')
        .attr('x', left).attr('y', panel.y0)
        .attr('width', right - left).attr('height', panel.y1 - panel.y0)
        .attr('fill', 'none').attr('stroke', '#000').attr('stroke-width', 2.5);
    return g;
}

// top panel: azimuth
const topG = drawPanel(topPanel, yAz, azimuthSeries, azTicks, azReference, 'clipTop');
const topMajor = d3.range(10).map(k => toTime(3 + k * 10 / 9));
const topMinor = d3.range(9).map(k => toTime(3 + (k + 0.5) * 10 / 9));
topG.append('g')
    .attr('transform', `translate(0,${topPanel.y1})`)
    .call(d3.axisBottom(x).tickValues(topMajor).tickSize(15).tickFormat(''))
    .call(styleAxis);
topG.append('g')
    .attr('transform', `translate(0,${topPanel.y1})`)
    .call(d3.axisBottom(x).tickValues(topMinor).tickSize(8).tickFormat(''))
    .call(styleAxis);

// bottom panel: doppler
const botG = drawPanel(botPanel, yDop, dopplerSeries, dopTicks, dopReference, 'clipBot');
botG.append('g')
    .attr('transform', `translate(0,${botPanel.y1})`)
    .call(d3.axisBottom(x).tickValues(labelHours.map(toTime)).tickSize(15).tickPadding(17)
        .tickFormat(d3.utcFormat('%d %H:%M')))
    .call(styleAxis);
botG.append('g')
    .attr('transform', `translate(0,${botPanel.y1})`)
    .call(d3.axisBottom(x).tickValues(minorHours.map(toTime)).tickSize(8).tickFormat(''))
    .call(styleAxis);

// axis titles
const ylab = (txt, px, py) => svg.append('text')
    .attr('transform', `translate(${px},${py}) rotate(-90)`)
    .attr('text-anchor', 'middle')
    .attr('font-size', labelFont)
    .text(txt);
ylab('Received', 94, (topPanel.y0 + topPanel.y1) / 2);
ylab('Azimuth (deg)', 156, (topPanel.y0 + topPanel.y1) / 2);
ylab('Doppler Shift (Hz)', 145, (botPanel.y0 + botPanel.y1) / 2);

svg.append('text')
    .attr('x', (left + right) / 2).attr('y', 1128)
    .attr('text-anchor', 'middle')
    .attr('font-size', labelFont)
    .text('Time (UT)');
svg.append('text')
    .attr('x', right).attr('y', 1123)
    .attr('text-anchor', 'end')
    .attr('font-size', tickFont)
    .text('2013-Nov');

// legend
const legend = svg.append('g');
legend.append('rect')
    .attr('x', 190).attr('y', 65)
    .attr('width', 1732).attr('height', 73)
    .attr('rx', 8)
    .attr('fill', '#fff')
    .attr('stroke', '#d0d0d0')
    .attr('stroke-width', 2.5);
const legendDotX = [246, 521, 794, 1067, 1365, 1666];
freqLabels.forEach((lab, i) => {
    legend.append('circle')
        .attr('cx', legendDotX[i]).attr('cy', 103)
        .attr('r', 13)
        .attr('fill', freqColors[i]);
    legend.append('text')
        .attr('x', legendDotX[i] + 50).attr('y', 115)
        .attr('font-size', 40)
        .text(lab);
});
</script>
</body>
</html>
